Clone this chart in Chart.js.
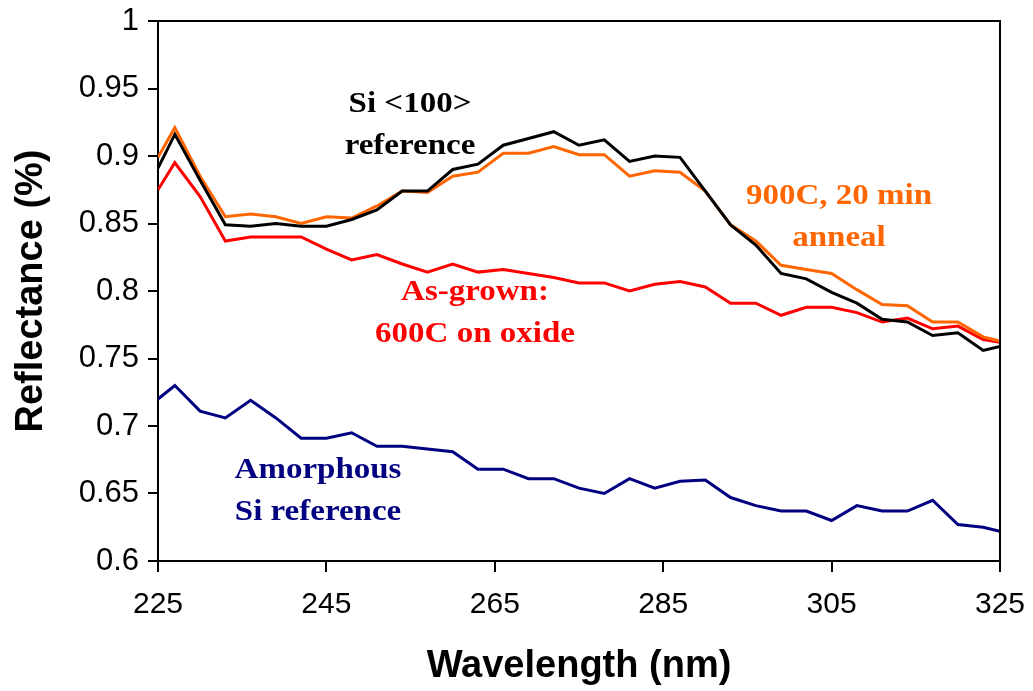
<!DOCTYPE html>
<html>
<head>
<meta charset="utf-8">
<script src="https://cdn.jsdelivr.net/npm/chart.js@4"></script>
<style>
  html, body { margin: 0; padding: 0; background: #fff; }
  #wrap { width: 1033px; height: 691px; }
</style>
</head>
<body>
<div id="wrap"><canvas id="myChart"></canvas></div>
<script>
// wavelength (nm)
const wavelength = [225, 227, 230, 233, 236, 239, 242, 245, 248, 251, 254, 257, 260,
    263, 266, 269, 272, 275, 278, 281, 284, 287, 290,
    293, 296, 299, 302, 305, 308, 311, 314, 317, 320, 323, 325];

const siRef = [0.891, 0.916, 0.882, 0.849, 0.848, 0.850, 0.848, 0.848, 0.853, 0.860, 0.874, 0.874, 0.890,
    0.894, 0.908, 0.913, 0.918, 0.908, 0.912, 0.896, 0.900, 0.899, 0.874,
    0.849, 0.834, 0.813, 0.809, 0.799, 0.791, 0.779, 0.777, 0.767, 0.769, 0.756, 0.759];

const anneal = [0.899, 0.921, 0.885, 0.855, 0.857, 0.855, 0.850, 0.855, 0.854, 0.863, 0.874, 0.873, 0.885,
    0.888, 0.902, 0.902, 0.907, 0.901, 0.901, 0.885, 0.889, 0.888, 0.874,
    0.849, 0.837, 0.819, 0.816, 0.813, 0.801, 0.790, 0.789, 0.777, 0.777, 0.766, 0.763];

const asGrown = [0.875, 0.895, 0.870, 0.837, 0.840, 0.840, 0.840, 0.831, 0.823, 0.827, 0.820, 0.814, 0.820,
    0.814, 0.816, 0.813, 0.810, 0.806, 0.806, 0.800, 0.805, 0.807, 0.803,
    0.791, 0.791, 0.782, 0.788, 0.788, 0.784, 0.777, 0.780, 0.772, 0.774, 0.764, 0.762];

const amorphous = [0.720, 0.730, 0.711, 0.706, 0.719, 0.706, 0.691, 0.691, 0.695, 0.685, 0.685, 0.683, 0.681,
    0.668, 0.668, 0.661, 0.661, 0.654, 0.650, 0.661, 0.654, 0.659, 0.660,
    0.647, 0.641, 0.637, 0.637, 0.630, 0.641, 0.637, 0.637, 0.645, 0.627, 0.625, 0.622];

const xTicks = [225, 245, 265, 285, 305, 325];
const yTicks = [0.6, 0.65, 0.7, 0.75, 0.8, 0.85, 0.9, 0.95, 1];

const toPoints = (ys) => wavelength.map((x, i) => ({ x: x, y: ys[i] }));

// text labels inside the plot
const notes = [
    { lines: ['Si <100>', 'reference'], x: 410, y: 104, color: '#000000' },
    { lines: ['900C, 20 min', 'anneal'], x: 839, y: 196, color: '#FF6600' },
    { lines: ['As-grown:', '600C on oxide'], x: 475, y: 292, color: '#FF0000' },
    { lines: ['Amorphous', 'Si reference'], x: 318, y: 470, color: '#000080' }
];

const frameAndNotes = {
    id: 'frameAndNotes',
    afterDatasetsDraw(chart) {
        const { ctx, chartArea: a } = chart;
        ctx.save();
        ctx.strokeStyle = '#000';
        ctx.lineWidth = 2;
        ctx.beginPath();
        ctx.moveTo(a.left - 10, a.top);
        ctx.lineTo(a.right, a.top);
        ctx.lineTo(a.right, a.bottom);
        ctx.stroke();

        ctx.font = 'bold 30px "Liberation Serif", "Times New Roman", serif';
        ctx.textAlign = 'center';
        ctx.textBaseline = 'middle';
        notes.forEach(n => {
            ctx.fillStyle = n.color;
            n.lines.forEach((t, i) => {
                ctx.save();
                ctx.translate(n.x, n.y + i * 42);
                ctx.scale(1.1, 1);
                ctx.fillText(t, 0, 0);
                ctx.restore();
            });
        });
        ctx.restore();
    }
};

const noEdgePadding = (s) => {
    s.paddingLeft = 0;
    s.paddingRight = 0;
    s.paddingTop = 0;
    s.paddingBottom = 0;
};

const ctx = document.getElementById('myChart');

new Chart(ctx, {
    type: 'line',
    data: {
        datasets: [
            { label: 'Si <100> reference', data: toPoints(siRef), borderColor: '#000000' },
            { label: '900C, 20 min anneal', data: toPoints(anneal), borderColor: '#FF6600' },
            { label: 'As-grown: 600C on oxide', data: toPoints(asGrown), borderColor: '#FF0000' },
            { label: 'Amorphous Si reference', data: toPoints(amorphous), borderColor: '#000080' }
        ]
    },
    options: {
        responsive: true,
        maintainAspectRatio: false,
        animation: false,
        layout: { padding: { top: 21, right: 33, left: 0, bottom: 0 } },
        elements: {
            line: { borderWidth: 3, tension: 0, fill: false },
            point: { radius: 0, hoverRadius: 0 }
        },
        plugins: {
            legend: { display: false },
            tooltip: { enabled: false }
        },
        scales: {
            x: {
                type: 'linear',
                min: 225,
                max: 325,
                afterBuildTicks: (s) => { s.ticks = xTicks.map(v => ({ value: v })); },
                afterFit: (s) => { s.height = 130; noEdgePadding(s); },
                grid: { drawOnChartArea: false, drawTicks: true, tickLength: 11, color: '#000', lineWidth: 2 },
                border: { display: true, color: '#000', width: 2 },
                ticks: {
                    color: '#000',
                    padding: 15,
                    maxRotation: 0,
                    font: { family: '"Liberation Sans", Arial, sans-serif', size: 30 }
                },
                title: {
                    display: true,
                    text: 'Wavelength (nm)',
                    color: '#000',
                    padding: { top: 0, bottom: 2 },
                    font: { family: '"Liberation Sans", Arial, sans-serif', size: 38, weight: 'bold' }
                }
            },
            y: {
                min: 0.6,
                max: 1,
                afterBuildTicks: (s) => { s.ticks = yTicks.map(v => ({ value: v })); },
                afterFit: (s) => { s.width = 158; noEdgePadding(s); },
                grid: { drawOnChartArea: false, drawTicks: true, tickLength: 10, color: '#000', lineWidth: 2 },
                border: { display: true, color: '#000', width: 2 },
                ticks: {
                    color: '#000',
                    padding: 9,
                    callback: (v) => String(Number(v.toFixed(2))),
                    font: { family: '"Liberation Sans", Arial, sans-serif', size: 31 }
                },
                title: {
                    display: true,
                    text: 'Reflectance (%)',
                    color: '#000',
                    padding: { top: 9, bottom: 0 },
                    font: { family: '"Liberation Sans", Arial, sans-serif', size: 38, weight: 'bold' }
                }
            }
        }
    },
    plugins: [frameAndNotes]
});
</script>
</body>
</html>
